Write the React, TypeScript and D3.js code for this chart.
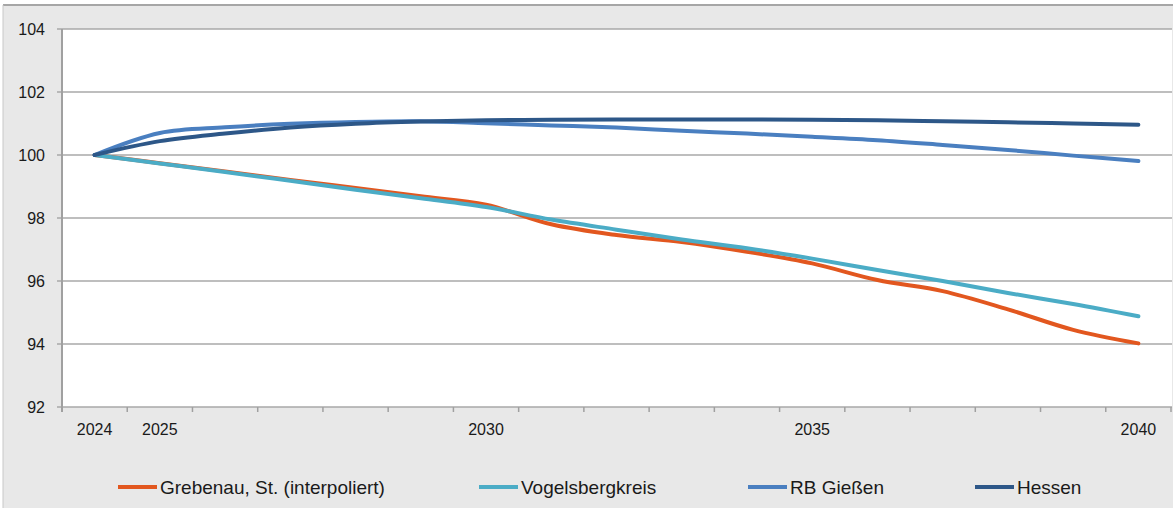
import { useEffect, useRef } from 'react';
import * as d3 from 'd3';

const years = [2024, 2025, 2026, 2027, 2028, 2029, 2030, 2031, 2032, 2033, 2034, 2035, 2036, 2037, 2038, 2039, 2040];
const labelYears = [2024, 2025, 2030, 2035, 2040];
const yTicks = [92, 94, 96, 98, 100, 102, 104];

const grebenau = [100, 99.74, 99.48, 99.21, 98.95, 98.69, 98.42, 97.8, 97.46, 97.24, 96.93, 96.56, 96.03, 95.68, 95.1, 94.45, 94.02];
const vogelsberg = [100, 99.73, 99.46, 99.18, 98.9, 98.63, 98.35, 97.95, 97.63, 97.32, 97.04, 96.71, 96.35, 96.0, 95.62, 95.27, 94.88];
const rbGiessen = [100, 100.7, 100.88, 100.99, 101.05, 101.07, 101.01, 100.94, 100.87, 100.77, 100.68, 100.58, 100.47, 100.32, 100.16, 99.98, 99.81];
const hessen = [100, 100.44, 100.68, 100.87, 100.99, 101.06, 101.1, 101.12, 101.13, 101.13, 101.13, 101.12, 101.1, 101.07, 101.04, 101.0, 100.96];

const series = [
  { name: 'Grebenau, St. (interpoliert)', values: grebenau, color: '#e2571f' },
  { name: 'Vogelsbergkreis', values: vogelsberg, color: '#4bacc6' },
  { name: 'RB Gießen', values: rbGiessen, color: '#4a7fc0' },
  { name: 'Hessen', values: hessen, color: '#2d5788' },
];
const legendX = [118, 479, 748, 975];

const W = 1173;
const H = 508;

const App = () => {
  const ref = useRef<SVGSVGElement>(null);

  useEffect(() => {
    if (!ref.current) return;
    const svg = d3.select(ref.current);
    svg.selectAll('*').remove();
    const font = '"Liberation Sans", Arial, sans-serif';

    // outer panel
    svg.append('rect').attr('x', 0).attr('y', 0).attr('width', W).attr('height', H).attr('fill', '#ffffff');
    svg.append('rect').attr('x', 3).attr('y', 5).attr('width', W - 3).attr('height', H - 5).attr('fill', '#e8e8e8');
    svg.append('line').attr('x1', 3).attr('x2', W).attr('y1', 5).attr('y2', 5).attr('stroke', '#a6a6a6').attr('stroke-width', 2);
    svg.append('line').attr('x1', 3).attr('x2', 3).attr('y1', 5).attr('y2', H).attr('stroke', '#c8c8c8').attr('stroke-width', 1);

    const x = d3.scaleBand<number>().domain(years).range([62, 1171]).padding(0);
    const y = d3.scaleLinear().domain([92, 104]).range([407, 29]);
    const cx = (yr: number) => (x(yr) as number) + x.bandwidth() / 2;

    svg.append('rect').attr('x', 62).attr('y', 29).attr('width', 1172 - 62).attr('height', 407 - 29).attr('fill', '#ffffff');

    // gridlines + y labels
    yTicks.forEach((t) => {
      svg.append('line').attr('x1', 57).attr('x2', 1172).attr('y1', y(t)).attr('y2', y(t))
        .attr('stroke', '#a8a8a8').attr('stroke-width', 1.5);
      svg.append('text').attr('x', 45).attr('y', y(t)).attr('dy', '0.35em').attr('text-anchor', 'end')
        .style('font-family', font).style('font-size', '16px').attr('fill', '#1a1a1a').text(t);
    });

    // axes lines
    svg.append('line').attr('x1', 62).attr('x2', 62).attr('y1', 29).attr('y2', 412).attr('stroke', '#a0a0a0').attr('stroke-width', 2);
    const bounds = years.map((yr) => x(yr) as number).concat([1171]);
    bounds.forEach((b) => {
      svg.append('line').attr('x1', b).attr('x2', b).attr('y1', 407).attr('y2', 412).attr('stroke', '#a0a0a0').attr('stroke-width', 1.5);
    });
    labelYears.forEach((yr) => {
      svg.append('text').attr('x', cx(yr)).attr('y', 435).attr('text-anchor', 'middle')
        .style('font-family', font).style('font-size', '16px').attr('fill', '#1a1a1a').text(yr);
    });

    const line = d3.line<number>()
      .x((_, i) => cx(years[i]))
      .y((d) => y(d))
      .curve(d3.curveCatmullRom.alpha(0.5));

    series.forEach((s) => {
      svg.append('path').attr('d', line(s.values)).attr('fill', 'none').attr('stroke', s.color)
        .attr('stroke-width', 4).attr('stroke-linecap', 'round').attr('stroke-linejoin', 'round');
    });

    // legend
    series.forEach((s, i) => {
      const lx = legendX[i];
      svg.append('line').attr('x1', lx).attr('x2', lx + 39).attr('y1', 487).attr('y2', 487)
        .attr('stroke', s.color).attr('stroke-width', 4);
      svg.append('text').attr('x', lx + 42).attr('y', 494)
        .style('font-family', font).style('font-size', '19px').attr('fill', '#1a1a1a').text(s.name);
    });
  }, []);

  return (
    <div style={{ position: 'absolute', left: 0, top: 0 }}>
      <svg ref={ref} width={W} height={H} style={{ display: 'block' }} />
    </div>
  );
};

export default App;
